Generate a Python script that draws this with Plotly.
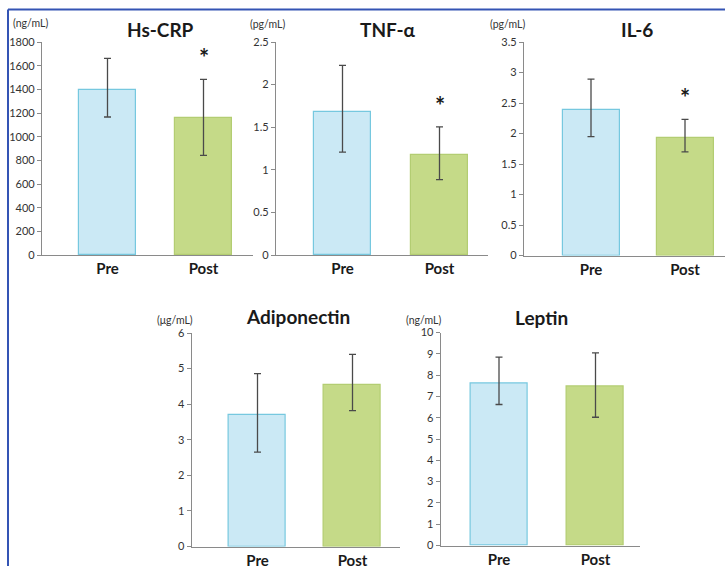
import plotly.graph_objects as go

# ---------------- data ----------------
categories = ["Pre", "Post"]
panel_titles = ["Hs-CRP", "TNF-α", "IL-6", "Adiponectin", "Leptin"]
panel_units = ["(ng/mL)", "(pg/mL)", "(pg/mL)", "(μg/mL)", "(ng/mL)"]

hs_crp_mean = [1395, 1155]
hs_crp_upper = [1662, 1485]
hs_crp_lower = [1166, 842]

tnf_mean = [1.68, 1.175]
tnf_upper = [2.225, 1.504]
tnf_lower = [1.207, 0.885]

il6_mean = [2.38, 1.93]
il6_upper = [2.89, 2.23]
il6_lower = [1.95, 1.70]

adipo_mean = [3.69, 4.55]
adipo_upper = [4.86, 5.40]
adipo_lower = [2.655, 3.82]

leptin_mean = [7.6, 7.45]
leptin_upper = [8.84, 9.04]
leptin_lower = [6.62, 6.02]

significant_post = [True, True, True, False, False]
y_max = [1800, 2.5, 3.5, 6, 10]
y_dtick = [200, 0.5, 0.5, 1, 1]

means = [hs_crp_mean, tnf_mean, il6_mean, adipo_mean, leptin_mean]
uppers = [hs_crp_upper, tnf_upper, il6_upper, adipo_upper, leptin_upper]
lowers = [hs_crp_lower, tnf_lower, il6_lower, adipo_lower, leptin_lower]

# ---------------- layout geometry (pixels) ----------------
W, H = 725, 566
# axis_x, right_x, first category center, category spacing, top_y, bottom_y
geom = [
    (42, 253, 107.5, 96.0, 42, 255),
    (276, 488, 342.5, 97.0, 42, 255),
    (524, 725, 591.0, 94.0, 42, 255.5),
    (191.7, 400, 257.5, 95.0, 333, 546.5),
    (440.7, 640, 499.0, 96.5, 332.5, 545.5),
]
title_pos = [(160, 29), (388, 29), (637, 29), (298, 316), (541, 317)]
unit_pos = [(50, 23), (287, 24), (527, 24), (195, 320), (443, 320)]

def px(x):
    return x / W

def py(y):
    return 1 - y / H

pre_fill = "#cbe9f5"
post_fill = "#c5da88"
pre_line = "#76c8df"
post_line = "#b3cd72"
axis_col = "#8a8a8a"
text_col = "#1a1a1a"
FONT = "Lato"

fig = go.Figure()
layout_axes = {}
annotations = []

for i in range(5):
    ax_x, right_x, c0, sp, top_y, bot_y = geom[i]
    xa = "x" if i == 0 else f"x{i+1}"
    ya = "y" if i == 0 else f"y{i+1}"
    mean = means[i]
    err_plus = [u - m for u, m in zip(uppers[i], mean)]
    err_minus = [m - l for m, l in zip(mean, lowers[i])]
    fig.add_trace(go.Bar(
        x=[0, 1], y=mean, width=57.0 / sp,
        marker=dict(color=[pre_fill, post_fill],
                    line=dict(color=[pre_line, post_line], width=1.2)),
        error_y=dict(type="data", symmetric=False, array=err_plus,
                     arrayminus=err_minus, color="#4a4a4a",
                     thickness=1.3, width=3.5),
        xaxis=xa, yaxis=ya, showlegend=False, hoverinfo="skip",
        cliponaxis=False,
    ))
    xkey = "xaxis" if i == 0 else f"xaxis{i+1}"
    ykey = "yaxis" if i == 0 else f"yaxis{i+1}"
    layout_axes[xkey] = dict(
        domain=[px(ax_x), min(px(right_x), 1.0)],
        range=[(ax_x - c0) / sp, (right_x - c0) / sp],
        anchor=ya, tickmode="array", tickvals=[0, 1], ticktext=categories,
        showline=True, linecolor=axis_col, linewidth=1.2, ticks="",
        showgrid=False, zeroline=False, fixedrange=True, automargin=False,
        tickfont=dict(family=FONT, size=15, color=text_col, weight="bold"),
    )
    layout_axes[ykey] = dict(
        domain=[py(bot_y), py(top_y)], range=[0, y_max[i]],
        anchor=xa, dtick=y_dtick[i], tick0=0,
        showline=True, linecolor=axis_col, linewidth=1.2,
        ticks="outside", ticklen=4, tickcolor=axis_col, tickwidth=1,
        showgrid=False, zeroline=False, fixedrange=True, automargin=False,
        tickfont=dict(family=FONT, size=11, color="#333333"),
    )
    tx, ty = title_pos[i]
    annotations.append(dict(
        text=panel_titles[i], x=px(tx), y=py(ty), xref="paper", yref="paper",
        xanchor="center", yanchor="middle", showarrow=False,
        font=dict(family=FONT, size=19, color=text_col, weight="bold"),
    ))
    ux, uy = unit_pos[i]
    annotations.append(dict(
        text=panel_units[i], x=px(ux), y=py(uy), xref="paper", yref="paper",
        xanchor="right", yanchor="middle", showarrow=False,
        font=dict(family=FONT, size=10.5, color="#333333"),
    ))
    if significant_post[i]:
        annotations.append(dict(
            text="*", x=1, y=uppers[i][1], xref=xa, yref=ya,
            xanchor="center", yanchor="bottom", yshift=5, showarrow=False,
            font=dict(family=FONT, size=24, color=text_col, weight="bold"),
        ))

# blue frame lines
shapes = [
    dict(type="line", xref="paper", yref="paper", x0=px(8), x1=1.0,
         y0=py(9.5), y1=py(9.5), line=dict(color="#3454b4", width=2)),
    dict(type="line", xref="paper", yref="paper", x0=px(8), x1=px(8),
         y0=py(9.5), y1=0, line=dict(color="#3454b4", width=2)),
]

fig.update_layout(
    width=W, height=H, margin=dict(l=0, r=0, t=0, b=0, pad=0, autoexpand=False),
    paper_bgcolor="white", plot_bgcolor="white",
    bargap=0, annotations=annotations, shapes=shapes,
    **layout_axes,
)

fig.write_html("out.html", config=dict(displayModeBar=False))
